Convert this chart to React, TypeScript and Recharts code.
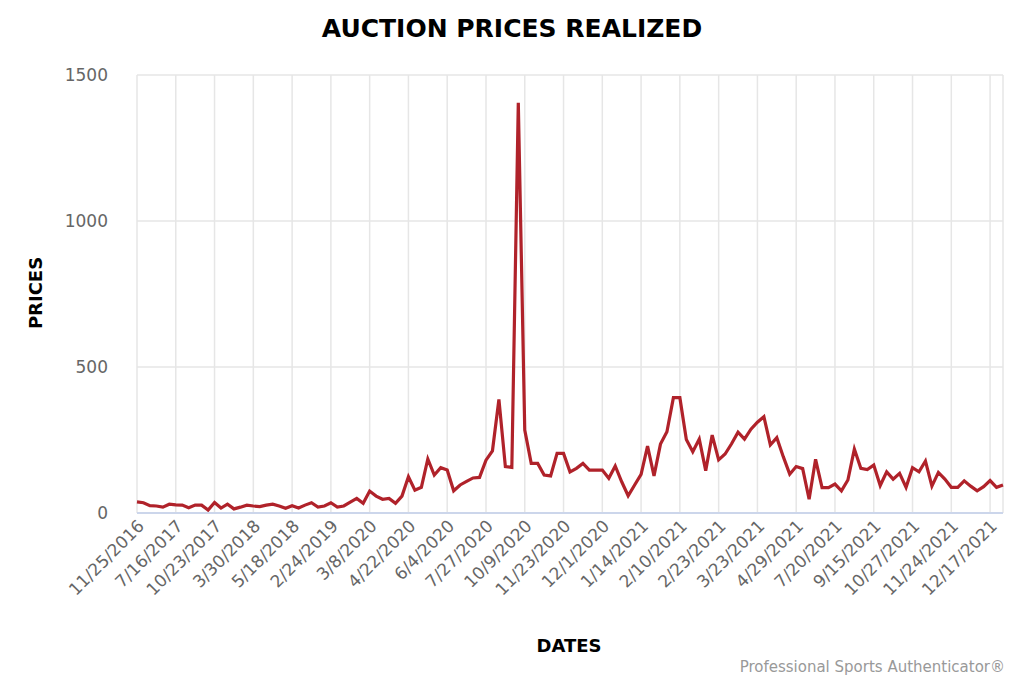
import { LineChart, Line, XAxis, YAxis, CartesianGrid } from 'recharts';

// one point per auction, x = sale index
const prices: number[] = [
  38, 35, 25, 24, 20, 30, 28, 27, 18, 27, 27, 10, 36, 17, 30, 14, 20, 27, 24, 22,
  27, 30, 24, 16, 25, 17, 27, 35, 20, 24, 35, 20, 24, 37, 50, 33, 75, 58, 47, 50,
  33, 58, 124, 78, 88, 185, 130, 155, 147, 76, 96, 108, 120, 122, 181, 213, 389, 159, 156, 1405,
  284, 170, 170, 130, 127, 204, 204, 141, 153, 170, 147, 147, 147, 119, 161, 107, 59, 96, 132, 229,
  127, 236, 278, 395, 395, 252, 210, 253, 145, 267, 182, 202, 237, 277, 253, 287, 311, 330, 233, 258,
  193, 133, 159, 152, 47, 184, 87, 87, 99, 76, 113, 219, 153, 149, 164, 94, 141, 116, 136, 88,
  155, 141, 178, 92, 139, 116, 88, 88, 110, 92, 76, 90, 111, 88, 96,
];

// labelled dates, one every 6 sales
const dateLabels: string[] = [
  '11/25/2016', '7/16/2017', '10/23/2017', '3/30/2018', '5/18/2018', '2/24/2019',
  '3/8/2020', '4/22/2020', '6/4/2020', '7/27/2020', '10/9/2020', '11/23/2020',
  '12/1/2020', '1/14/2021', '2/10/2021', '2/23/2021', '3/23/2021', '4/29/2021',
  '7/20/2021', '9/15/2021', '10/27/2021', '11/24/2021', '12/17/2021',
];
const labelStep = 6;
const yTicks = [0, 500, 1000, 1500];

const data = prices.map((price, i) => ({ idx: i, price }));
const xTicks = dateLabels.map((_, i) => i * labelStep);

const FONT = '"DejaVu Sans", sans-serif';

const DateTick = (props: any) => {
  const { x, y, payload } = props;
  const label = dateLabels[Math.round(payload.value / labelStep)] ?? '';
  return (
    <text
      x={x + 4}
      y={y}
      dy="0.35em"
      textAnchor="end"
      transform={`rotate(-45 ${x + 4} ${y})`}
      fill="#666666"
      fontSize={17}
      fontFamily={FONT}
    >
      {label}
    </text>
  );
};

export default function App() {
  return (
    <div
      style={{
        position: 'absolute',
        left: 0,
        top: 0,
        width: 1024,
        height: 683,
        background: '#fff',
        fontFamily: FONT,
      }}
    >
      <div
        style={{
          position: 'absolute',
          top: 14,
          width: 1024,
          textAlign: 'center',
          fontSize: 25,
          fontWeight: 'bold',
          color: '#000',
        }}
      >
        AUCTION PRICES REALIZED
      </div>
      <div
        style={{
          position: 'absolute',
          left: 35,
          top: 293,
          transform: 'translate(-50%, -50%) rotate(-90deg)',
          fontSize: 18,
          fontWeight: 'bold',
        }}
      >
        PRICES
      </div>
      <div
        style={{
          position: 'absolute',
          left: 569,
          top: 645,
          transform: 'translate(-50%, -50%)',
          fontSize: 18,
          fontWeight: 'bold',
        }}
      >
        DATES
      </div>
      <div
        style={{
          position: 'absolute',
          right: 19,
          top: 658,
          fontSize: 15,
          color: '#999999',
        }}
      >
        Professional Sports Authenticator®
      </div>
      <LineChart
        width={1024}
        height={683}
        data={data}
        margin={{ top: 75, right: 21, left: 57, bottom: 70 }}
      >
        <CartesianGrid stroke="#e6e6e6" strokeWidth={1.5} />
        <XAxis
          dataKey="idx"
          type="number"
          domain={[0, prices.length - 1]}
          ticks={xTicks}
          interval={0}
          height={100}
          tickSize={0}
          tickMargin={10}
          stroke="#ccd6eb"
          strokeWidth={2}
          tick={<DateTick />}
        />
        <YAxis
          domain={[0, 1500]}
          ticks={yTicks}
          width={80}
          axisLine={false}
          tickLine={false}
          tickSize={0}
          tickMargin={29}
          tick={{ fill: '#666666', fontSize: 17, fontFamily: FONT }}
        />
        <Line
          type="linear"
          dataKey="price"
          stroke="#b0222a"
          strokeWidth={3.2}
          dot={false}
          isAnimationActive={false}
        />
      </LineChart>
    </div>
  );
}
